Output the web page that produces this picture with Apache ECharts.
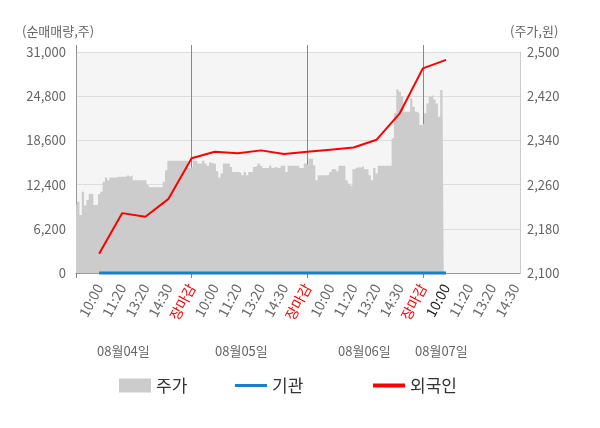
<!DOCTYPE html>
<html>
<head>
<meta charset="utf-8">
<script src="https://cdn.jsdelivr.net/npm/echarts@6/dist/echarts.min.js"></script>
<style>
html, body { margin: 0; padding: 0; background: #fff; }
#chart { width: 600px; height: 428px; }
</style>
</head>
<body>
<div id="chart"></div>
<script>
// x축 눈금 라벨 (10칸마다 하나)
var tickLabels = ['10:00', '11:20', '13:20', '14:30', '장마감',
                  '10:00', '11:20', '13:20', '14:30', '장마감',
                  '10:00', '11:20', '13:20', '14:30', '장마감',
                  '10:00', '11:20', '13:20', '14:30'];
var dayLabels = ['08월04일', '08월05일', '08월06일', '08월07일'];

// 주가 (원)
var price = [
    2220, 2229, 2205, 2247, 2222, 2232, 2243, 2243, 2223, 2223,
    2243, 2247, 2265, 2273, 2268, 2273, 2273, 2273, 2274, 2274,
    2274, 2274, 2277, 2274, 2277, 2268, 2268, 2268, 2268, 2268,
    2268, 2259, 2255, 2255, 2255, 2255, 2255, 2255, 2265, 2286,
    2303, 2303, 2303, 2303, 2303, 2303, 2303, 2303, 2303, 2290,
    2292, 2303, 2303, 2298, 2298, 2303, 2298, 2294, 2300, 2298,
    2298, 2284, 2273, 2280, 2298, 2298, 2298, 2292, 2283, 2283,
    2283, 2281, 2277, 2283, 2277, 2283, 2283, 2292, 2294, 2298,
    2294, 2290, 2290, 2290, 2294, 2290, 2292, 2290, 2290, 2294,
    2294, 2283, 2294, 2294, 2294, 2294, 2294, 2290, 2290, 2298,
    2295, 2307, 2307, 2295, 2268, 2277, 2277, 2277, 2277, 2277,
    2283, 2288, 2288, 2284, 2294, 2294, 2294, 2268, 2262, 2258,
    2288, 2291, 2291, 2291, 2294, 2288, 2288, 2277, 2268, 2290,
    2280, 2294, 2294, 2294, 2294, 2294, 2294, 2344, 2389, 2432,
    2428, 2420, 2392, 2392, 2392, 2416, 2401, 2392, 2389, 2368,
    2370, 2389, 2407, 2419, 2422, 2414, 2407, 2383, 2431, 2420
];

// 누적 순매매량 (주), 눈금마다 한 점
var foreign = [2700, 8400, 7900, 10400, 16100, 17000, 16800, 17200,
               16700, 17000, 17300, 17600, 18700, 22400, 28700, 29900];
var inst = [0, 0, 0, 0, 0, 0, 0, 0, 0, 0, 0, 0, 0, 0, 0, 0];

var step = 10;      // 라벨 간격 (칸)
var daySlots = 50;  // 하루 칸 수
var slotCount = tickLabels.length * step + 3;

var categories = [];
for (var i = 0; i < slotCount; i++) {
    categories.push(i > 0 && i % step === 0 ? tickLabels[i / step - 1] : '');
}

function sampled(arr) {
    var out = [];
    for (var i = 0; i < slotCount; i++) out.push(null);
    for (var k = 0; k < arr.length; k++) out[(k + 1) * step] = arr[k];
    return out;
}

function isDayEdge(i) {
    return i % daySlots === 0 && i < slotCount - 1;
}

var font = '"Noto Sans CJK KR", "Noto Sans", sans-serif';

// 범례 하나씩 따로 배치
function legendAt(left, item) {
    return {
        left: left, top: 372,
        itemWidth: 32, itemHeight: 14,
        textStyle: { fontSize: 17, color: '#333', fontFamily: font },
        data: [item]
    };
}

var chart = echarts.init(document.getElementById('chart'));
var option = {
    animation: false,
    textStyle: { fontFamily: font },
    grid: {
        left: 76, right: 80, top: 52, bottom: 155,
        show: true, backgroundColor: '#f5f5f5', borderWidth: 0
    },
    legend: [
        legendAt(114, { name: '주가', icon: 'rect', itemStyle: { color: '#cccccc' } }),
        legendAt(230, { name: '기관', icon: 'path://M0,0L32,0L32,3L0,3Z', itemStyle: { color: '#1a7fcb' } }),
        legendAt(368, { name: '외국인', icon: 'path://M0,0L32,0L32,4L0,4Z', itemStyle: { color: '#ff0000' } })
    ],
    xAxis: [
        {
            type: 'category',
            data: categories,
            boundaryGap: false,
            position: 'bottom',
            axisLine: { lineStyle: { color: '#999', width: 1 } },
            axisTick: {
                show: true, length: 5,
                interval: function (i) { return isDayEdge(i); },
                lineStyle: { color: '#888' }
            },
            splitLine: {
                show: true,
                interval: function (i) { return i > 0 && isDayEdge(i); },
                lineStyle: { color: '#888' }
            },
            axisLabel: {
                interval: function (i) { return i > 0 && i % step === 0; },
                rotate: 62,
                margin: 12,
                fontSize: 14,
                color: '#6a6a6a',
                formatter: function (v, idx) {
                    if (v === '장마감') return '{r|' + v + '}';
                    if (idx === 3 * daySlots + step) return '{d|' + v + '}';
                    return v;
                },
                rich: {
                    r: { color: '#ff0000', fontSize: 14, fontFamily: font },
                    d: { color: '#222', fontSize: 14, fontFamily: font }
                }
            }
        },
        {
            type: 'category',
            data: categories,
            boundaryGap: false,
            position: 'top',
            axisLine: { show: false },
            axisLabel: { show: false },
            axisTick: {
                show: true, length: 7,
                interval: function (i) { return isDayEdge(i); },
                lineStyle: { color: '#888' }
            }
        }
    ],
    yAxis: [
        {
            type: 'value',
            min: 0, max: 31000, interval: 6200,
            axisLine: { show: true, lineStyle: { color: '#999' } },
            axisTick: { show: false },
            splitLine: { lineStyle: { color: '#dddddd' } },
            axisLabel: {
                fontSize: 13, color: '#666', margin: 10,
                padding: [4, 0, 0, 0],
                formatter: function (v) { return v.toLocaleString('en-US'); }
            }
        },
        {
            type: 'value',
            min: 2100, max: 2500,
            position: 'right',
            axisLine: { show: true, lineStyle: { color: '#cccccc' } },
            axisTick: { show: false },
            splitLine: { show: false },
            axisLabel: {
                fontSize: 13, color: '#666', margin: 7,
                padding: [4, 0, 0, 0],
                customValues: [2100, 2180, 2260, 2340, 2420, 2500],
                formatter: function (v) { return v.toLocaleString('en-US'); }
            }
        }
    ],
    graphic: [
        { type: 'text', left: 22, top: 25, style: { text: '(순매매량,주)', font: '13px ' + font, fill: '#666' } },
        { type: 'text', left: 510, top: 25, style: { text: '(주가,원)', font: '13px ' + font, fill: '#666' } },
        { type: 'text', left: 97, top: 345, style: { text: dayLabels[0], font: '13px ' + font, fill: '#666' } },
        { type: 'text', left: 215, top: 345, style: { text: dayLabels[1], font: '13px ' + font, fill: '#666' } },
        { type: 'text', left: 338, top: 345, style: { text: dayLabels[2], font: '13px ' + font, fill: '#666' } },
        { type: 'text', left: 415, top: 345, style: { text: dayLabels[3], font: '13px ' + font, fill: '#666' } }
    ],
    series: [
        {
            name: '주가',
            type: 'line',
            yAxisIndex: 1,
            data: price,
            step: 'middle',
            symbol: 'none',
            lineStyle: { width: 0, opacity: 0 },
            itemStyle: { color: '#cccccc' },
            areaStyle: { color: '#cccccc', opacity: 1 },
            z: 1
        },
        {
            name: '기관',
            type: 'line',
            data: sampled(inst),
            connectNulls: true,
            symbol: 'none',
            clip: false,
            lineStyle: { color: '#1a7fcb', width: 3 },
            itemStyle: { color: '#1a7fcb' },
            z: 3
        },
        {
            name: '외국인',
            type: 'line',
            data: sampled(foreign),
            connectNulls: true,
            symbol: 'none',
            lineStyle: { color: '#ff0000', width: 2 },
            itemStyle: { color: '#ff0000' },
            z: 4
        }
    ]
};
chart.setOption(option);
</script>
</body>
</html>
